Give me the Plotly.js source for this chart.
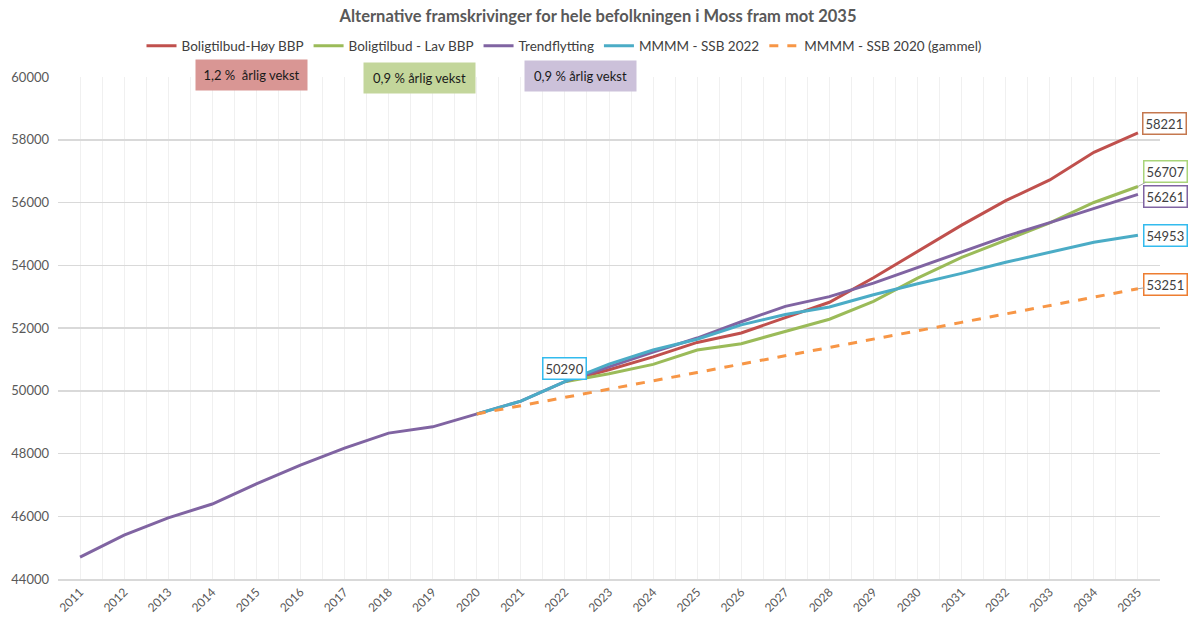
<!DOCTYPE html>
<html>
<head>
<meta charset="utf-8">
<script src="https://cdn.plot.ly/plotly-3.0.1.min.js"></script>
<style>html,body{margin:0;padding:0;background:#fff}#chart{width:1196px;height:624px}</style>
</head>
<body>
<div id="chart"></div>
<script>
// ---- data ----
const years = [2011,2012,2013,2014,2015,2016,2017,2018,2019,2020,2021,2022,2023,2024,2025,2026,2027,2028,2029,2030,2031,2032,2033,2034,2035];
const yearsFrom2020 = years.slice(9);
const yearsFrom2022 = years.slice(11);

const trendflytting = [44700,45400,45950,46390,47030,47630,48170,48650,48850,49260,49670,50290,50770,51230,51680,52200,52690,53000,53430,53920,54420,54920,55360,55810,56261];
const hoyBBP = [50290,50670,51080,51540,51840,52330,52820,53600,54450,55280,56060,56720,57600,58221];
const lavBBP = [50290,50540,50840,51300,51500,51900,52280,52850,53590,54250,54790,55350,56000,56510];
const ssb2022 = [49260,49670,50290,50850,51300,51640,52100,52430,52670,53060,53410,53740,54095,54414,54733,54953];
const ssb2020 = [49260,49520,49800,50060,50320,50580,50850,51110,51380,51640,51910,52180,52450,52720,52990,53251];

const seriesNames = ["Boligtilbud-Høy BBP","Boligtilbud - Lav BBP","Trendflytting","MMMM - SSB 2022","MMMM - SSB 2020 (gammel)"];
const endLabels = ["58221","56707","56261","54953","53251"];
const startLabel = "50290";
const growthTexts = ["1,2 %\u00a0 årlig vekst","0,9 % årlig vekst","0,9 % årlig vekst"];
const yTicks = [44000,46000,48000,50000,52000,54000,56000,58000,60000];

// ---- styles ----
const colors = ["#c0504d","#9bbb59","#8064a2","#4bacc6","#f79646"];
const labelBorders = ["#c5784f","#a9d47a","#8064a2","#33bbee","#ed7d31"];
const FONT = "Lato, 'Open Sans', sans-serif";

const traces = [
  {x: yearsFrom2022, y: hoyBBP, name: seriesNames[0], line:{color:colors[0], width:3}},
  {x: yearsFrom2022, y: lavBBP, name: seriesNames[1], line:{color:colors[1], width:3}},
  {x: years, y: trendflytting, name: seriesNames[2], line:{color:colors[2], width:3}},
  {x: yearsFrom2020, y: ssb2022, name: seriesNames[3], line:{color:colors[3], width:3}},
  {x: yearsFrom2020, y: ssb2020, name: seriesNames[4], line:{color:colors[4], width:3, dash:'dash'}}
].map(t => Object.assign({type:'scatter', mode:'lines', hoverinfo:'x+y+name'}, t));

const last = a => a[a.length-1];
const ends = [last(hoyBBP), last(lavBBP), last(trendflytting), last(ssb2022), last(ssb2020)];

function valLabel(text, y, border, opts){
  return Object.assign({
    x: 2035, y: y, xref:'x', yref:'y', text: text,
    font:{family:FONT, size:13, color:'#404040'},
    bgcolor:'#ffffff', bordercolor:border, borderwidth:1.5, borderpad:2,
    showarrow:false
  }, opts);
}

const annotations = [
  valLabel(endLabels[0], ends[0], labelBorders[0], {xshift:27, yshift:9}),
  valLabel(endLabels[1], ends[1], labelBorders[1], {showarrow:true, ax:28, ay:-15, arrowhead:0, arrowwidth:1, arrowcolor:'#a6a6a6', standoff:0}),
  valLabel(endLabels[2], ends[2], labelBorders[2], {xshift:28, yshift:-2}),
  valLabel(endLabels[3], ends[3], labelBorders[3], {xshift:28, yshift:0}),
  valLabel(endLabels[4], ends[4], labelBorders[4], {showarrow:true, ax:28, ay:-4, arrowhead:0, arrowwidth:1, arrowcolor:'#a6a6a6', standoff:0}),
  valLabel(startLabel, ssb2022[2], labelBorders[3], {x: yearsFrom2020[2], xshift:0, yshift:13}),
];

const boxFills = ["#d99694","#c3d69b","#ccc1da"];
const boxPos = [[251,75],[419,78],[580,76]];
const L=58, T=77, W=1102, H=502;
growthTexts.forEach((t,i)=>{
  annotations.push({
    xref:'paper', yref:'paper',
    x:(boxPos[i][0]-L)/W, y:(T+H-boxPos[i][1])/H,
    xanchor:'center', yanchor:'middle',
    text:t, showarrow:false,
    font:{family:FONT, size:13, color:'#1a1a1a'},
    bgcolor:boxFills[i], borderpad:0, width:111, height:30
  });
});

const minorVals = [];
for (let i=0;i<=years.length;i++) minorVals.push(years[0]-0.5+i);

const layout = {
  width:1196, height:624,
  margin:{l:L, r:1196-L-W, t:T, b:624-T-H, pad:0},
  paper_bgcolor:'#ffffff', plot_bgcolor:'#ffffff',
  font:{family:FONT, color:'#595959'},
  title:{text:'Alternative framskrivinger for hele befolkningen i Moss fram mot 2035',
    x:0.5, xref:'container', y:1-16/624, yref:'container', yanchor:'middle', xanchor:'center',
    font:{family:FONT, size:16.5, color:'#595959', weight:'bold'}},
  showlegend:true,
  legend:{orientation:'h', x:(564-L)/W, xanchor:'center', y:(T+H-46)/H, yanchor:'middle',
    font:{family:FONT, size:13.5, color:'#404040'}, bgcolor:'rgba(0,0,0,0)'},
  xaxis:{
    range:[years[0]-0.5, last(years)+0.5], tickmode:'array', tickvals:years, ticktext:years.map(String),
    tickangle:-45, tickfont:{family:FONT, size:12, color:'#595959'},
    showgrid:true, gridcolor:'#f0f0f0', gridwidth:1, ticks:'', zeroline:false,
    showline:true, linecolor:'#d9d9d9', linewidth:1.5,
    minor:{tickmode:'array', tickvals:minorVals, showgrid:true, gridcolor:'#f0f0f0', gridwidth:1, ticks:''}
  },
  yaxis:{
    range:[44000,60000], tickmode:'array', tickvals:yTicks, ticktext:yTicks.map(String),
    tickfont:{family:FONT, size:13, color:'#595959'},
    showgrid:true, gridcolor:'#d9d9d9', gridwidth:1.5, zeroline:false, showline:false, ticks:'',
    ticklabelstandoff:8
  },
  annotations: annotations
};

Plotly.newPlot('chart', traces, layout, {displayModeBar:false, staticPlot:true});
</script>
</body>
</html>
